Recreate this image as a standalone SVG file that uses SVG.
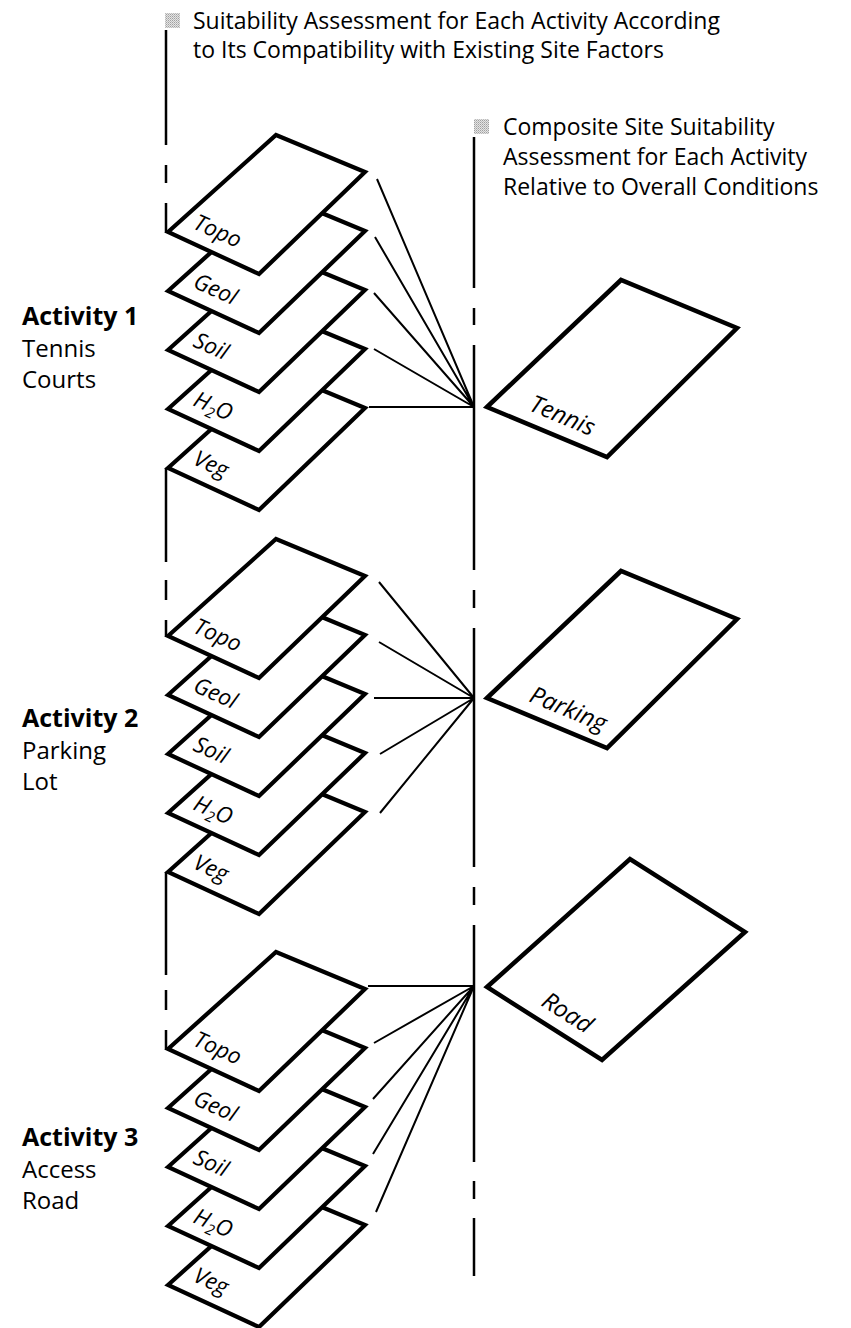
<svg xmlns="http://www.w3.org/2000/svg" xmlns:xlink="http://www.w3.org/1999/xlink" width="851" height="1328" viewBox="0 0 851 1328">
  <style>
    .card { fill: #fff; stroke: #000; stroke-width: 4.2; stroke-linejoin: miter; stroke-miterlimit: 10; }
    .plate { fill: #fff; stroke: #000; stroke-width: 4.5; stroke-linejoin: miter; stroke-miterlimit: 10; }
    .link { stroke: #000; stroke-width: 2; fill: none; stroke-linecap: butt; }
    .axis { stroke: #000; stroke-width: 2.5; fill: none; }
    .txt { font-family: "Open Sans", Lato, "Liberation Sans", sans-serif; fill: #000; }
    .head { font-size: 23px; }
    .act { font-size: 24px; }
    .act .bold { font-weight: bold; font-size: 25px; }
    .lbl { font-size: 22.5px; font-style: italic; }
    .big { font-size: 24px; }
    .sub { font-size: 15px; }
  </style>
  <defs>
    <!-- halftone screen for the small key squares -->
    <pattern id="screen" width="2" height="2" patternUnits="userSpaceOnUse">
      <rect width="2" height="2" fill="#e4e4e4"/>
      <rect width="1" height="1" fill="#a0a0a0"/>
      <rect x="1" y="1" width="1" height="1" fill="#bdbdbd"/>
    </pattern>
    <!-- factor sheet, anchored at its left corner -->
    <polygon id="card" class="card" points="0,0 108,-97 197,-60 91,42"/>
    <!-- composite sheet, anchored at its left corner -->
    <polygon id="plate" class="plate" points="0,0 134,-127 250,-79 120,50"/>
  </defs>

  <!-- headings -->
  <g id="key-left">
    <rect x="165" y="13" width="15" height="15" fill="url(#screen)"/>
    <text class="txt head" x="193" y="29">Suitability Assessment for Each Activity According</text>
    <text class="txt head" x="193" y="58">to Its Compatibility with Existing Site Factors</text>
  </g>
  <g id="key-right">
    <rect x="474" y="119" width="15" height="15" fill="url(#screen)"/>
    <text class="txt head" x="503" y="135">Composite Site Suitability</text>
    <text class="txt head" x="503" y="165">Assessment for Each Activity</text>
    <text class="txt head" x="503" y="195">Relative to Overall Conditions</text>
  </g>

  <!-- activity captions -->
  <g id="activity-1-caption">
    <text class="txt act" x="22" y="325"><tspan class="bold">Activity 1</tspan></text>
    <text class="txt act" x="22" y="357">Tennis</text>
    <text class="txt act" x="22" y="388">Courts</text>
  </g>
  <g id="activity-2-caption">
    <text class="txt act" x="22" y="727"><tspan class="bold">Activity 2</tspan></text>
    <text class="txt act" x="22" y="759">Parking</text>
    <text class="txt act" x="22" y="790">Lot</text>
  </g>
  <g id="activity-3-caption">
    <text class="txt act" x="22" y="1146"><tspan class="bold">Activity 3</tspan></text>
    <text class="txt act" x="22" y="1178">Access</text>
    <text class="txt act" x="22" y="1209">Road</text>
  </g>

  <!-- connectors: spines and fan lines -->
  <g id="connectors">
    <path class="axis" d="M166,30 V145 M166,165 V183 M166,203 V232
                          M166,468 V562 M166,580 V600 M166,620 V636
                          M166,872 V975 M166,990 V1010 M166,1030 V1049"/>
    <path class="axis" d="M474,137 V288 M474,308 V325 M474,345 V570 M474,590 V608
                          M474,628 V867 M474,887 V905 M474,925 V1162 M474,1181 V1199 M474,1218 V1276"/>
    <path class="link" d="M377,179 L474,407 M375,237 L474,407 M374,293 L474,407 M374,349 L474,407 M369,407 H474"/>
    <path class="link" d="M379,582 L474,698 M379,642 L474,698 M374,698 H474 M380,754 L474,698 M380,813 L474,698"/>
    <path class="link" d="M368,986 H474 M374,1043 L474,986 M373,1099 L474,986 M373,1154 L474,986 M376,1212 L474,986"/>
  </g>

  <!-- Activity 1 factor sheets (drawn bottom to top) -->
  <g id="a1-veg"><use xlink:href="#card" x="168" y="468"/><text class="txt lbl" transform="translate(192,464) rotate(24)">Veg</text></g>
  <g id="a1-h2o"><use xlink:href="#card" x="168" y="409"/><text class="txt lbl" transform="translate(192,405) rotate(24)">H<tspan class="sub" dy="5">2</tspan><tspan dy="-5">O</tspan></text></g>
  <g id="a1-soil"><use xlink:href="#card" x="168" y="350"/><text class="txt lbl" transform="translate(192,346) rotate(24)">Soil</text></g>
  <g id="a1-geol"><use xlink:href="#card" x="168" y="291"/><text class="txt lbl" transform="translate(192,287) rotate(24)">Geol</text></g>
  <g id="a1-topo"><use xlink:href="#card" x="168" y="232"/><text class="txt lbl" transform="translate(192,228) rotate(24)">Topo</text></g>

  <!-- Activity 2 factor sheets -->
  <g id="a2-veg"><use xlink:href="#card" x="168" y="872"/><text class="txt lbl" transform="translate(192,868) rotate(24)">Veg</text></g>
  <g id="a2-h2o"><use xlink:href="#card" x="168" y="813"/><text class="txt lbl" transform="translate(192,809) rotate(24)">H<tspan class="sub" dy="5">2</tspan><tspan dy="-5">O</tspan></text></g>
  <g id="a2-soil"><use xlink:href="#card" x="168" y="754"/><text class="txt lbl" transform="translate(192,750) rotate(24)">Soil</text></g>
  <g id="a2-geol"><use xlink:href="#card" x="168" y="695"/><text class="txt lbl" transform="translate(192,691) rotate(24)">Geol</text></g>
  <g id="a2-topo"><use xlink:href="#card" x="168" y="636"/><text class="txt lbl" transform="translate(192,632) rotate(24)">Topo</text></g>

  <!-- Activity 3 factor sheets -->
  <g id="a3-veg"><use xlink:href="#card" x="168" y="1285"/><text class="txt lbl" transform="translate(192,1281) rotate(24)">Veg</text></g>
  <g id="a3-h2o"><use xlink:href="#card" x="168" y="1226"/><text class="txt lbl" transform="translate(192,1222) rotate(24)">H<tspan class="sub" dy="5">2</tspan><tspan dy="-5">O</tspan></text></g>
  <g id="a3-soil"><use xlink:href="#card" x="168" y="1167"/><text class="txt lbl" transform="translate(192,1163) rotate(24)">Soil</text></g>
  <g id="a3-geol"><use xlink:href="#card" x="168" y="1108"/><text class="txt lbl" transform="translate(192,1104) rotate(24)">Geol</text></g>
  <g id="a3-topo"><use xlink:href="#card" x="168" y="1049"/><text class="txt lbl" transform="translate(192,1045) rotate(24)">Topo</text></g>

  <!-- composite sheets -->
  <g id="composite-tennis"><use xlink:href="#plate" x="487" y="407"/><text class="txt lbl big" transform="translate(528,410) rotate(22.6)">Tennis</text></g>
  <g id="composite-parking"><use xlink:href="#plate" x="487" y="698"/><text class="txt lbl big" transform="translate(528,701) rotate(22.6)">Parking</text></g>
  <g id="composite-road"><polygon class="plate" points="487,987 630,859 745,932 602,1060"/><text class="txt lbl big" transform="translate(540,1005) rotate(32.4)">Road</text></g>
</svg>
